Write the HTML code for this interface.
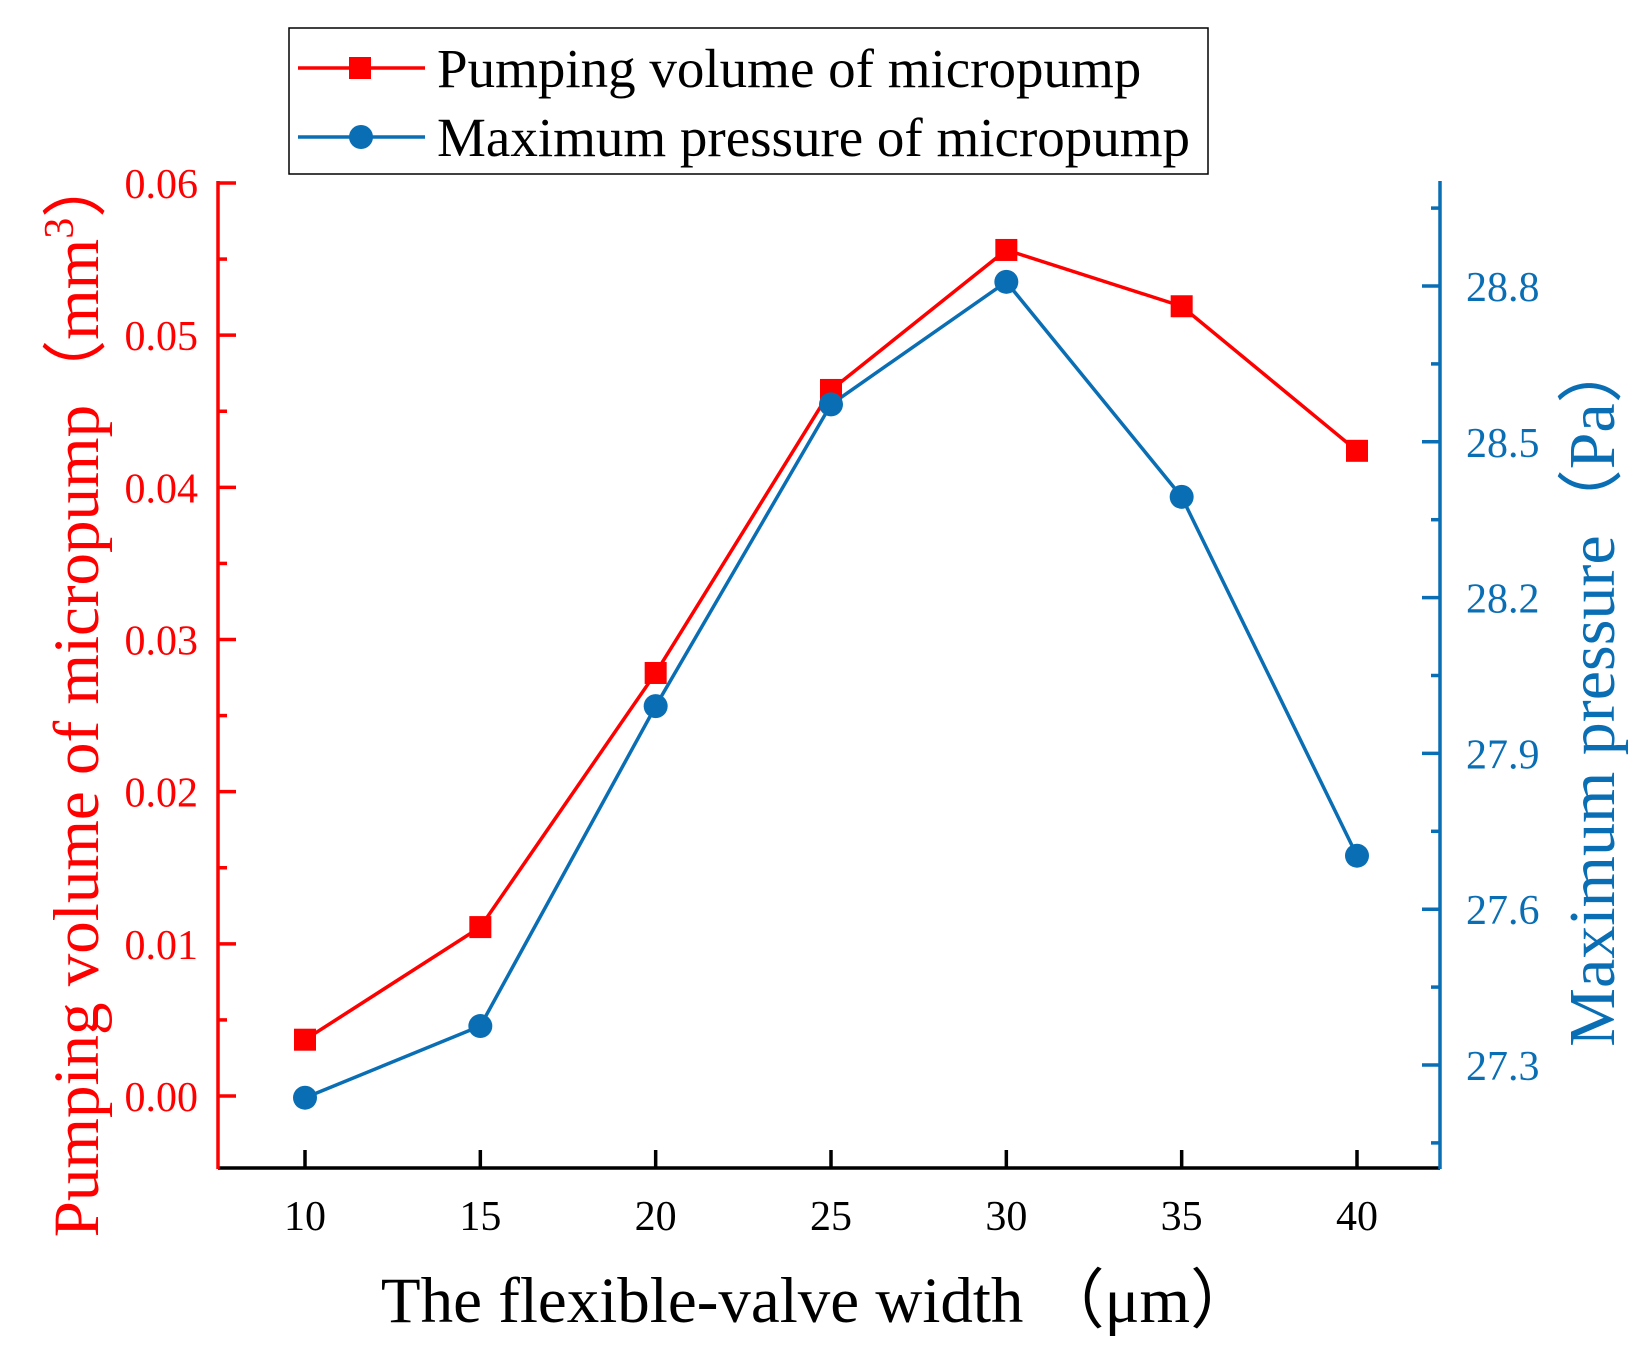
<!DOCTYPE html>
<html><head><meta charset="utf-8"><style>body{margin:0;background:#fff}svg{display:block}text{font-family:"Liberation Serif",serif}</style></head>
<body>
<svg id="chart" width="1643" height="1351" viewBox="0 0 1643 1351" xmlns="http://www.w3.org/2000/svg">
<g id="axes"></g><g id="series"></g>
<g>
<rect x="289" y="28" width="919" height="146" fill="#fff" stroke="#000" stroke-width="1.5"/>
<g><line x1="298" y1="68" x2="425" y2="68" stroke="#ff0000" stroke-width="3.5"/><rect x="349" y="57" width="22" height="22" fill="#ff0000"/><text x="437" y="87" font-size="55">Pumping volume of micropump</text></g>
<g><line x1="298" y1="137" x2="425" y2="137" stroke="#0a6eb4" stroke-width="3.5"/><circle cx="361" cy="137" r="12" fill="#0a6eb4"/><text x="437" y="156" font-size="55">Maximum pressure of micropump</text></g>
</g>
<text x="818" y="1322" font-size="65" text-anchor="middle">The flexible-valve width （μm）</text>
<text transform="translate(98,695) rotate(-90)" font-size="65" fill="#ff0000" text-anchor="middle">Pumping volume of micropump（mm<tspan dy="-25" font-size="42">3</tspan><tspan dy="25">）</tspan></text>
<text transform="translate(1614,692) rotate(-90)" font-size="66" fill="#0a6eb4" text-anchor="middle">Maximum pressure（Pa）</text>
</svg>
<script>
const xCats=[10,15,20,25,30,35,40];
const pumpVol=[0.0037,0.0111,0.0278,0.0464,0.0556,0.0519,0.0424];
const maxPres=[27.237,27.375,27.991,28.572,28.808,28.394,27.703];
const xTicks=[10,15,20,25,30,35,40];
const leftTicks=[0,0.01,0.02,0.03,0.04,0.05,0.06];
const rightTicks=[27.3,27.6,27.9,28.2,28.5,28.8];
const NS="http://www.w3.org/2000/svg";
const L=218,R=1440,T=183,B=1168;
const xS=v=>305+(v-10)*(1357-305)/30;
const yL=v=>1096-v*(1096-183)/0.06;
const yR=v=>1065-(v-27.3)*(1065-286)/1.5;
const RED="#ff0000",BLUE="#0a6eb4";
function mk(tag,attrs,parent){const e=document.createElementNS(NS,tag);for(const k in attrs)e.setAttribute(k,attrs[k]);parent.appendChild(e);return e;}
const ax=document.getElementById('axes'),se=document.getElementById('series');
let e;
e=mk('line',{x1:L,y1:B,x2:R,y2:B,stroke:'#000','stroke-width':3.5},ax);


e=mk('line',{x1:L,y1:T-2,x2:L,y2:B+1,stroke:RED,'stroke-width':3.5},ax);


e=mk('line',{x1:R,y1:T-2,x2:R,y2:B+1,stroke:BLUE,'stroke-width':3.5},ax);


xTicks.forEach(v=>{mk('line',{x1:xS(v),y1:B,x2:xS(v),y2:B-18,stroke:'#000','stroke-width':3.5},ax);
 e=mk('text',{x:xS(v),y:1230,'font-size':42,'text-anchor':'middle'},ax);e.textContent=v;
 
 });
leftTicks.forEach((v,i)=>{mk('line',{x1:L,y1:yL(v),x2:L+18,y2:yL(v),stroke:RED,'stroke-width':3.5},ax);
 if(v<0.06)mk('line',{x1:L,y1:yL(v+0.005),x2:L+9,y2:yL(v+0.005),stroke:RED,'stroke-width':3.5},ax);
 e=mk('text',{x:198,y:yL(v)+15,'font-size':42,'text-anchor':'end',fill:RED},ax);e.textContent=v.toFixed(2);
 
 });
rightTicks.forEach(v=>{mk('line',{x1:R,y1:yR(v),x2:R-18,y2:yR(v),stroke:BLUE,'stroke-width':3.5},ax);
 mk('line',{x1:R,y1:yR(v+0.15),x2:R-9,y2:yR(v+0.15),stroke:BLUE,'stroke-width':3.5},ax);
 e=mk('text',{x:1466,y:yR(v)+15,'font-size':42,fill:BLUE},ax);e.textContent=v.toFixed(1);
 
 });
mk('line',{x1:R,y1:yR(27.15),x2:R-9,y2:yR(27.15),stroke:BLUE,'stroke-width':3.5},ax);
e=mk('polyline',{points:xCats.map((x,i)=>xS(x)+','+yL(pumpVol[i])).join(' '),fill:'none',stroke:RED,'stroke-width':3.5},se);


e=mk('polyline',{points:xCats.map((x,i)=>xS(x)+','+yR(maxPres[i])).join(' '),fill:'none',stroke:BLUE,'stroke-width':3.5},se);


xCats.forEach((x,i)=>{
 e=mk('rect',{x:xS(x)-11,y:yL(pumpVol[i])-11,width:22,height:22,fill:RED},se);
 
 
 e=mk('circle',{cx:xS(x),cy:yR(maxPres[i]),r:12,fill:BLUE},se);
 
 
});
</script>
</body></html>
